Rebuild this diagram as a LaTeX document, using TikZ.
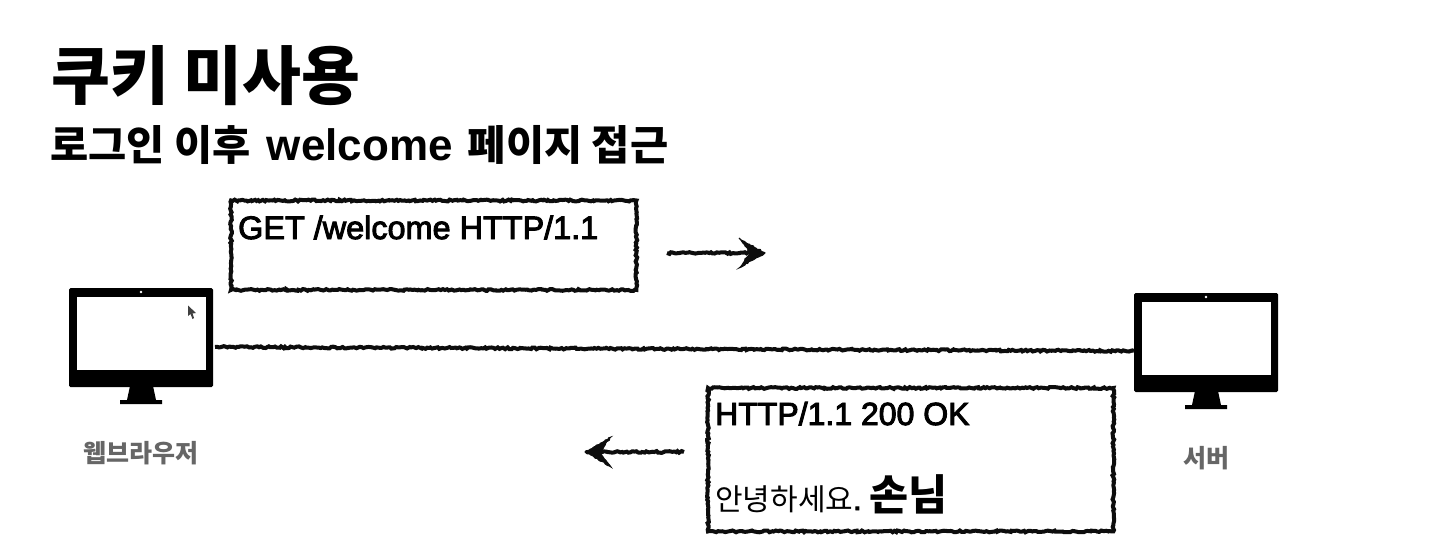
\documentclass[tikz,border=0pt]{standalone}
\usepackage{fontspec}
\usetikzlibrary{arrows.meta,decorations.pathmorphing,calc}
\setmainfont{Liberation Sans}
\newfontfamily\kr{Noto Sans CJK KR}
\newfontfamily\latm{Liberation Sans}[FakeBold=3]
\pgfmathsetseed{7}
\definecolor{lbl}{HTML}{666666}
\tikzset{
  x=1pt,y=-1pt,
  rough/.style={decorate,decoration={random steps,segment length=2pt,amplitude=.9pt},line width=4pt,draw=black!95},
  roughhead/.style={decorate,decoration={random steps,segment length=2pt,amplitude=.7pt},fill=black!95,draw=black!95,line width=1pt},
  txt/.style={inner sep=0,anchor=base west,text=black},
  monbody/.style={fill=black,rounded corners=1.5pt,minimum width=144pt,minimum height=99pt,inner sep=0,outer sep=0},
  monscreen/.style={fill=white,minimum width=129pt,minimum height=73pt,inner sep=0,outer sep=0},
  mondot/.style={circle,fill=white,minimum size=2.6pt,inner sep=0},
  monstand/.style={fill=black},
  monlabel/.style={inner sep=0,text=lbl,font=\kr\bfseries\fontsize{25}{25}\selectfont}
}
\begin{document}
\begin{tikzpicture}
\useasboundingbox (0,0) rectangle (1432,552);
\fill[white] (0,0) rectangle (1432,552);
% headings
\node[txt,font=\kr\bfseries\fontsize{64}{64}\selectfont] (title) at (51,99) {쿠키 미사용};
\node[txt,font=\bfseries\fontsize{44}{44}\selectfont] (sub) at (50,160) {{\kr\fontsize{41.5}{41.5}\selectfont 로그인 이후}\hspace{4pt} welcome \hspace{3pt}{\kr\fontsize{41.5}{41.5}\selectfont 페이지 접근}};
% browser
\node[monbody] (browser) at (141,337.5) {};
\node[monscreen] (bscreen) at (141.5,333.5) {};
\node[mondot] (bdot) at (141,292) {};
\fill[monstand] (130,386) -- (153,386) -- (156,400) -- (162,400) -- (162,404) -- (120,404) -- (120,400) -- (127,400) -- cycle;
\fill[black!75] (188,305.5) -- (188,316) -- (190.5,314) -- (192.5,319) -- (194,318) -- (192.5,313.5) -- (196,313) -- cycle;
\node[monlabel] (blabel) at (141,453) {웹브라우저};
% server
\node[monbody] (server) at (1206,342.5) {};
\node[monscreen] (sscreen) at (1206.5,338.5) {};
\node[mondot] (sdot) at (1206,297) {};
\fill[monstand] (1195,391) -- (1218,391) -- (1221,405) -- (1227,405) -- (1227,409) -- (1185,409) -- (1185,405) -- (1192,405) -- cycle;
\node[monlabel] (slabel) at (1206,458) {서버};
% link
\draw[rough] ($(browser.east)+(2,9.5)$) -- ($(server.west)+(0,8.5)$);
% request
\node[minimum width=405pt,minimum height=89pt,inner sep=0,anchor=north west] (req) at (231,200.5) {};
\draw[rough] (req.north west) rectangle (req.south east);
\node[txt,font=\latm\fontsize{32.4}{32.4}\selectfont] (reqt) at (238,239) {GET /welcome HTTP/1.1};
\coordinate (reqa) at (667,253);
\coordinate (reqb) at (765,253);
\draw[rough] (reqa) -- ($(reqb)+(-12,0)$);
\path[roughhead] (reqb) -- ($(reqb)+(-26,-15)$) -- ($(reqb)+(-15,0)$) -- ($(reqb)+(-26,15)$) -- cycle;
% response
\node[minimum width=405pt,minimum height=143pt,inner sep=0,anchor=north west] (res) at (708,388) {};
\draw[rough] (res.north west) rectangle (res.south east);
\node[txt,font=\latm\fontsize{32}{32}\selectfont] (rest) at (715,425) {HTTP/1.1 200 OK};
\node[txt,font=\fontsize{30}{30}\selectfont] (resk) at (715,510) {{\kr\selectfont 안녕하세요}{\latm .}\hspace{-3pt} {\kr\bfseries\fontsize{42.5}{42.5}\selectfont 손님}};
\coordinate (resa) at (684,452);
\coordinate (resb) at (585,452);
\draw[rough] (resa) -- ($(resb)+(12,0)$);
\path[roughhead] (resb) -- ($(resb)+(26,-15)$) -- ($(resb)+(15,0)$) -- ($(resb)+(26,15)$) -- cycle;
\end{tikzpicture}
\end{document}
